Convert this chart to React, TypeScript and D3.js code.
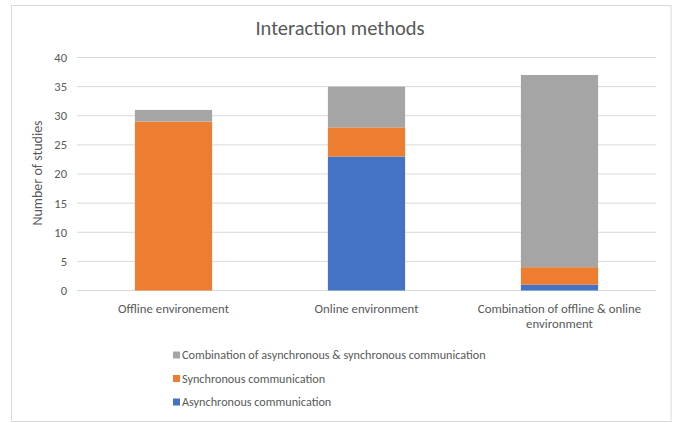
import React from "react";
import * as d3 from "d3";

const categories = ["Offline environement", "Online environment", "Combination of offline & online environment"];
const categoryLines = [["Offline environement"], ["Online environment"], ["Combination of offline & online", "environment"]];
const seriesNames = ["Asynchronous communication", "Synchronous communication", "Combination of asynchronous & synchronous communication"];
const asyncValues = [0, 23, 1];
const syncValues = [29, 5, 3];
const comboValues = [2, 7, 33];
const yTicks = [0, 5, 10, 15, 20, 25, 30, 35, 40];
const colors = ["#4472C4", "#ED7D31", "#A5A5A5"];

const W = 675, H = 423;
const FONT = "Carlito, 'Open Sans', 'Noto Sans', sans-serif";

export default function App() {
  const x = d3.scaleBand<string>().domain(categories).range([77, 656]).paddingInner(0.6).paddingOuter(0.3);
  const y = d3.scaleLinear().domain([0, 40]).range([290.5, 57.5]);
  const rows = categories.map((c, i) => ({ cat: c, a: asyncValues[i], s: syncValues[i], c: comboValues[i] }));
  const stack = d3.stack<any>().keys(["a", "s", "c"])(rows);

  return (
    <svg width={W} height={H} style={{ position: "absolute", left: 0, top: 0 }} fontFamily={FONT}>
      <rect x={11.5} y={5.5} width={659.5} height={416} fill="#fff" stroke="#d9d9d9" />
      <text x={340} y={35} textAnchor="middle" fontSize={20.5} fill="#595959">Interaction methods</text>
      {yTicks.map(t => (
        <g key={t}>
          <line x1={77} x2={656} y1={y(t)} y2={y(t)} stroke="#d9d9d9" strokeWidth={1} />
          <text x={67} y={y(t)} dy="0.35em" textAnchor="end" fontSize={12.5} fill="#595959">{t}</text>
        </g>
      ))}
      <text transform={`translate(42,${173}) rotate(-90)`} textAnchor="middle" fontSize={14} fill="#595959">Number of studies</text>
      {stack.map((s, si) => (
        <g key={si} fill={colors[si]}>
          {s.map((d, i) => (
            <rect key={i} x={x(categories[i])} width={x.bandwidth()} y={y(d[1])} height={Math.max(0, y(d[0]) - y(d[1]))} />
          ))}
        </g>
      ))}
      {categories.map((c, i) => (
        <text key={c} x={(x(c) as number) + x.bandwidth() / 2} y={313} textAnchor="middle" fontSize={12.8} fill="#595959">
          {categoryLines[i].map((l, li) => (
            <tspan key={li} x={(x(c) as number) + x.bandwidth() / 2} dy={li === 0 ? 0 : 15}>{l}</tspan>
          ))}
        </text>
      ))}
      {[2, 1, 0].map((si, k) => (
        <g key={si} transform={`translate(173,${355 + k * 23.5})`}>
          <rect x={0} y={-3.5} width={7} height={7} fill={colors[si]} />
          <text x={9} y={0} dy="0.35em" fontSize={12.2} fill="#595959">{seriesNames[si]}</text>
        </g>
      ))}
    </svg>
  );
}
